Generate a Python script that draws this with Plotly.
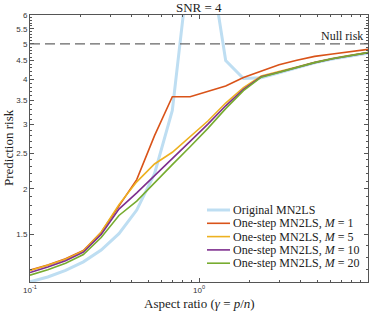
import plotly.graph_objects as go
import math

# ---- data ----
gamma = [0.1, 0.1274, 0.1624, 0.2069, 0.2637, 0.3360, 0.4281, 0.5456, 0.6952, 0.8859,
         1.1288, 1.4384, 1.8330, 2.3357, 2.9764, 3.7927, 4.8329, 6.1585, 7.8476, 10.0]

original = [1.111, 1.146, 1.194, 1.261, 1.358, 1.506, 1.749, 2.201, 3.281, 8.76,
            9.22, 4.50, 4.018, 4.036, 4.162, 4.303, 4.433, 4.544, 4.636, 4.711]
m1 = [1.196, 1.235, 1.285, 1.355, 1.52, 1.80, 2.12, 2.80, 3.58, 3.58,
      3.70, 3.83, 4.04, 4.21, 4.38, 4.51, 4.62, 4.69, 4.75, 4.83]
m5 = [1.194, 1.234, 1.282, 1.35, 1.52, 1.81, 2.09, 2.34, 2.52, 2.78,
      3.07, 3.44, 3.79, 4.08, 4.19, 4.32, 4.45, 4.56, 4.65, 4.73]
m10 = [1.178, 1.22, 1.27, 1.34, 1.50, 1.76, 1.95, 2.17, 2.42, 2.70,
       3.01, 3.38, 3.75, 4.06, 4.18, 4.31, 4.44, 4.55, 4.64, 4.73]
m20 = [1.159, 1.20, 1.25, 1.32, 1.47, 1.69, 1.85, 2.08, 2.33, 2.61,
       2.93, 3.32, 3.72, 4.05, 4.18, 4.31, 4.44, 4.55, 4.64, 4.73]
null_risk = 5

names = ["Original MN2LS",
         "One-step MN2LS, <i>M</i> = 1",
         "One-step MN2LS, <i>M</i> = 5",
         "One-step MN2LS, <i>M</i> = 10",
         "One-step MN2LS, <i>M</i> = 20"]
series = [original, m1, m5, m10, m20]
colors = ["rgb(190,222,242)", "#D95319", "#EDB120", "#7E2F8E", "#77AC30"]
widths = [3, 1.6, 1.6, 1.6, 1.6]

ytick_vals = [1.5, 2, 2.5, 3, 3.5, 4, 4.5, 5, 5.5, 6]
ytick_text = ["1.5", "2", "2.5", "3", "3.5", "4", "4.5", "5", "5.5", "6"]
xtick_vals = [0.1, 1, 10]
xtick_text = ["10<sup>-1</sup>", "10<sup>0</sup>", "10<sup>1</sup>"]

serif = "Liberation Serif"
sans = "Liberation Sans"
txt = "#222"

# layout geometry (pixels)
W, H = 374, 311
L, R, T, B = 30, 6, 15, 29
PW, PH = W - L - R, H - T - B


def px_x(x):
    return (x - L) / PW


def px_y(y):
    return (H - B - y) / PH


fig = go.Figure()
for name, ys, c, w in zip(names, series, colors, widths):
    fig.add_trace(go.Scatter(x=gamma, y=ys, mode="lines", name=name, showlegend=False,
                             line=dict(color=c, width=w)))

# null risk line + label
fig.add_shape(type="line", xref="paper", x0=0, x1=1, yref="y", y0=null_risk, y1=null_risk,
              line=dict(color="#666666", width=1.2, dash="10px,5px"))
fig.add_annotation(x=1, xref="x", xanchor="right", y=math.log10(null_risk), yref="y",
                   yanchor="bottom", text="Null risk", showarrow=False,
                   font=dict(family=serif, size=12, color=txt), xshift=-3, yshift=-1)

# title and axis titles
fig.add_annotation(x=0.5, xref="paper", y=px_y(8), yref="paper", yanchor="middle",
                   text="SNR = 4", showarrow=False, font=dict(family=serif, size=13, color=txt))
fig.add_annotation(x=px_x(199), xref="paper", y=px_y(303), yref="paper", yanchor="middle",
                   text="Aspect ratio (<i>γ</i> = <i>p</i>/<i>n</i>)", showarrow=False,
                   font=dict(family=serif, size=13, color=txt))
fig.add_annotation(x=px_x(8), xref="paper", y=px_y(148), yref="paper", xanchor="center",
                   yanchor="middle", textangle=-90, text="Prediction risk", showarrow=False,
                   font=dict(family=serif, size=13, color=txt))

# legend (drawn by hand for compact row spacing)
legend_rows = [210, 223.3, 236.6, 249.9, 263.2]
for name, c, w, ry in zip(names, colors, widths, legend_rows):
    fig.add_shape(type="line", xref="paper", yref="paper", x0=px_x(207), x1=px_x(230),
                  y0=px_y(ry), y1=px_y(ry), line=dict(color=c, width=w))
    fig.add_annotation(x=px_x(231), xref="paper", y=px_y(ry), yref="paper",
                       xanchor="left", yanchor="middle", text=name, showarrow=False,
                       font=dict(family=serif, size=12, color=txt))

minor_y = [v / 10 for v in range(12, 60) if v % 5 != 0]
minor_x = [k * 0.1 for k in range(2, 10)] + [k * 1.0 for k in range(2, 10)]

axis_common = dict(showline=True, linecolor="#555", linewidth=1, mirror="allticks",
                   ticks="inside", ticklen=4, tickcolor="#555", showgrid=False, zeroline=False,
                   tickfont=dict(family=sans, size=8, color="#333"), automargin=False)

fig.update_xaxes(type="log", range=[-1, 1], tickvals=xtick_vals, ticktext=xtick_text,
                 minor=dict(tickvals=minor_x, ticks="inside", ticklen=2, tickcolor="#555"),
                 **axis_common)
fig.update_yaxes(type="log", range=[math.log10(1.11), math.log10(6)],
                 tickvals=ytick_vals, ticktext=ytick_text,
                 minor=dict(tickvals=minor_y, ticks="inside", ticklen=2, tickcolor="#555"),
                 **axis_common)

fig.update_layout(
    width=W, height=H,
    margin=dict(l=L, r=R, t=T, b=B),
    paper_bgcolor="white", plot_bgcolor="white",
    showlegend=False,
)

fig.write_html("out.html", config={"displayModeBar": False},
               post_script="document.body.style.margin='0';document.body.style.overflow='hidden';")
